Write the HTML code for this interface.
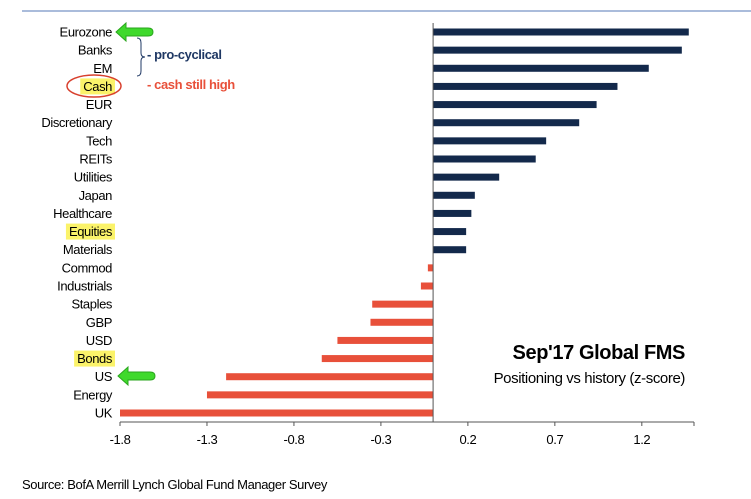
<!DOCTYPE html>
<html><head><meta charset="utf-8">
<style>
body{margin:0;background:#fff;width:751px;height:499px;overflow:hidden;font-family:"Liberation Sans",sans-serif;}
svg{display:block}
text{letter-spacing:-0.4px}
</style></head><body>
<svg id="chart" width="751" height="499">
<line x1="22" y1="11" x2="751" y2="11" stroke="#8ea6cf" stroke-width="1.5"/>
<g id="hl"></g>
<g id="bars"></g>
<g id="labels"></g>
<g id="ticks"></g>
<ellipse cx="94" cy="86" rx="27" ry="11" fill="none" stroke="#d8402e" stroke-width="1.5"/>
<path d="M137,38 q4,0 4,5 v10 q0,4 4,4 q-4,0 -4,4 v10 q0,5 -4,5" fill="none" stroke="#1f3864" stroke-width="1"/>
<text x="147" y="59" font-size="13" font-weight="bold" fill="#1f3864">- pro-cyclical</text>
<text x="147" y="89" font-size="13" font-weight="bold" fill="#e8503a">- cash still high</text>
<path d="M116,32 l10,-9 v5 h22 q5,0 5,4 q0,4 -5,4 h-22 v5 z" fill="#3fd92c" stroke="#2aa51d"/>
<path d="M118,376 l10,-9 v5 h22 q5,0 5,4 q0,4 -5,4 h-22 v5 z" fill="#3fd92c" stroke="#2aa51d"/>
<text x="685" y="359" font-size="20" font-weight="bold" text-anchor="end" fill="#000">Sep'17 Global FMS</text>
<text x="685" y="383" font-size="15" text-anchor="end" fill="#000">Positioning vs history (z-score)</text>
<text x="22" y="489" font-size="13" fill="#000">Source: BofA Merrill Lynch Global Fund Manager Survey</text>
</svg>
<script>
const categories=["Eurozone","Banks","EM","Cash","EUR","Discretionary","Tech","REITs","Utilities","Japan","Healthcare","Equities","Materials","Commod","Industrials","Staples","GBP","USD","Bonds","US","Energy","UK"];
const values=[1.47,1.43,1.24,1.06,0.94,0.84,0.65,0.59,0.38,0.24,0.22,0.19,0.19,-0.03,-0.07,-0.35,-0.36,-0.55,-0.64,-1.19,-1.30,-1.80];
const tickValues=[-1.8,-1.3,-0.8,-0.3,0.2,0.7,1.2];
const highlighted=["Cash","Equities","Bonds"];
const NS="http://www.w3.org/2000/svg";
const xMin=-1.8,xMax=1.5,px0=120,px1=694;
const x=v=>px0+(v-xMin)/(xMax-xMin)*(px1-px0);
const y0=32,step=(413-32)/21;
const y=i=>y0+i*step;
function mk(tag,attrs,parent){const e=document.createElementNS(NS,tag);for(const k in attrs)e.setAttribute(k,attrs[k]);document.getElementById(parent).appendChild(e);return e;}
categories.forEach((c,i)=>{
  const v=values[i];
  const r=mk('rect',{x:Math.min(x(0),x(v)),y:y(i)-3.5,width:Math.abs(x(v)-x(0)),height:7,fill:v>=0?'#13294b':'#e8503a'},'bars');
  
  
  const t=mk('text',{x:112,y:y(i)+4.5,'font-size':13,'text-anchor':'end',fill:'#000'},'labels');
  t.textContent=c;
  
  
  if(highlighted.includes(c)){
    const w=t.getComputedTextLength()+6;
    const h=mk('rect',{x:115-w,y:y(i)-8,width:w,height:16,fill:'#fbf36a'},'hl');
    
    
  }
});
const zl=mk('line',{x1:x(0),y1:23,x2:x(0),y2:422,stroke:'#555','stroke-width':1},'ticks');


const ax=mk('line',{x1:px0,y1:422,x2:px1,y2:422,stroke:'#555','stroke-width':1},'ticks');


tickValues.forEach(v=>{
  const tk=mk('line',{x1:x(v),y1:422,x2:x(v),y2:426,stroke:'#555'},'ticks');
  
  
  const t=mk('text',{x:x(v),y:444,'font-size':13,'text-anchor':'middle',fill:'#000'},'ticks');
  t.textContent=v.toFixed(1);
  
  
});
const et=mk('line',{x1:px1,y1:422,x2:px1,y2:426,stroke:'#555'},'ticks');


</script>
</body></html>
